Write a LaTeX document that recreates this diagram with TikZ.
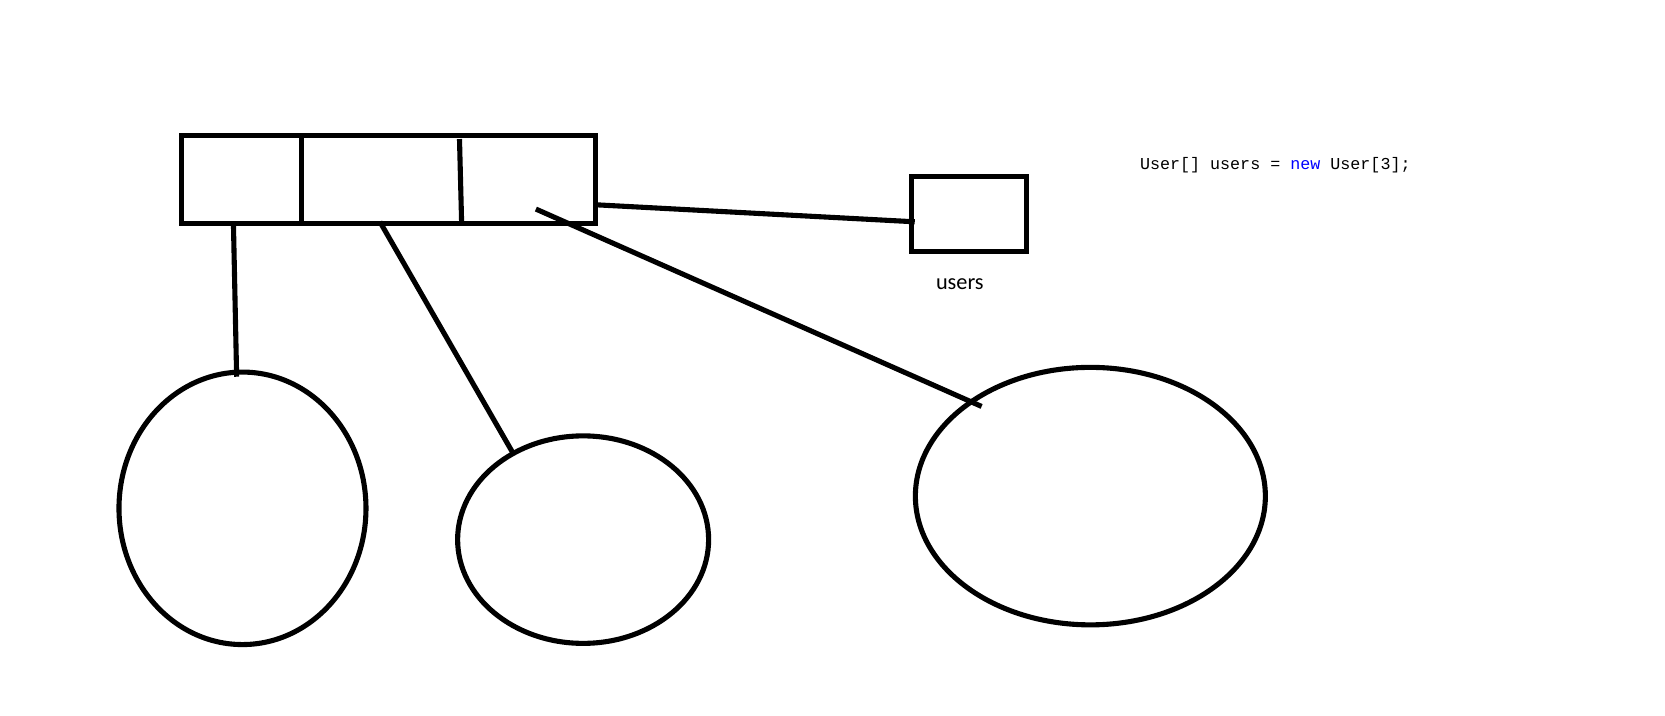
\documentclass[tikz,border=0pt]{standalone}
\usepackage{fontspec}
\setmainfont{Carlito}
\newfontfamily\codefont{Liberation Mono}
\usetikzlibrary{shapes.geometric}
\definecolor{kwblue}{RGB}{0,0,255}
\begin{document}
\begin{tikzpicture}[x=0.021224cm,y=-0.021224cm,
  stroke/.style={line width=2.9pt,draw=black},
  boxnode/.style={stroke,rectangle,inner sep=0pt,outer sep=0pt},
  blob/.style={stroke,ellipse,inner sep=0pt,outer sep=0pt},
  wire/.style={line width=2.9pt,black}]
\useasboundingbox[fill=white] (0,0) rectangle (1569,674.7);
% array
\node[boxnode,minimum width=8.28cm,minimum height=1.76cm] (arr) at (366.5,169) {};
\coordinate (d1t) at (284,128); \coordinate (d1b) at (284,210);
\coordinate (d2t) at (433,131); \coordinate (d2b) at (435,210);
\draw[wire] (d1t) -- (d1b);
\draw[wire] (d2t) -- (d2b);
% reference variable
\node[boxnode,minimum width=2.30cm,minimum height=1.49cm] (var) at (913.5,201.5) {};
\node[font=\fontsize{12.7}{15}\selectfont] (lbl) at (904.5,268) {users};
\node[anchor=base west,inner sep=0pt,font=\codefont\fontsize{9.5}{11}\selectfont] (code) at (1074,160) {User[] users = {\color{kwblue}new} User[3];};
% objects
\node[blob,minimum width=4.94cm,minimum height=5.45cm] (o1) at (228.5,479) {};
\node[blob,minimum width=5.02cm,minimum height=4.15cm] (o2) at (549.5,508.5) {};
\node[blob,minimum width=7.0cm,minimum height=5.15cm] (o3) at (1027.5,467.5) {};
% connectors
\coordinate (a0) at (562,193); \coordinate (v0) at (862,209);
\draw[wire] (a0) -- (v0);
\coordinate (c1) at (220,212); \coordinate (e1) at (223,355);
\draw[wire] (c1) -- (e1);
\coordinate (c2) at (358,209); \coordinate (e2) at (484,428);
\draw[wire] (c2) -- (e2);
\coordinate (c3) at (505,197); \coordinate (e3) at (925,383);
\draw[wire] (c3) -- (e3);
\end{tikzpicture}
\end{document}
